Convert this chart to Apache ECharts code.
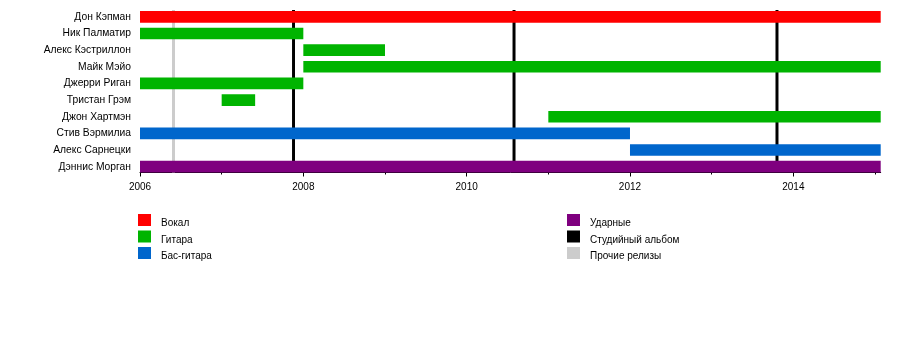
<!DOCTYPE html>
<html>
<head>
<meta charset="utf-8">
<script src="https://cdn.jsdelivr.net/npm/echarts@6/dist/echarts.min.js"></script>
<style>
html,body{margin:0;padding:0;background:#fff;}
#chart{width:900px;height:352px;}
</style>
</head>
<body>
<div id="chart"></div>
<script>
const members = ['Дон Кэпман','Ник Палматир','Алекс Кэстриллон','Майк Мэйо','Джерри Риган','Тристан Грэм','Джон Хартмэн','Стив Вэрмилиа','Алекс Сарнецки','Дэннис Морган'];
const memberStart = [2006, 2006, 2008, 2008, 2006, 2007, 2011, 2006, 2012, 2006];
const memberEnd = [2015.07, 2008, 2009, 2015.07, 2008, 2007.41, 2015.07, 2012, 2015.07, 2015.07];
const memberRole = [0, 1, 1, 1, 1, 1, 1, 2, 2, 3];
const roles = ['Вокал', 'Гитара', 'Бас-гитара', 'Ударные'];
const roleColors = ['#ff0000', '#00b400', '#0066cc', '#7f007f'];
const studioAlbums = [2007.88, 2010.58, 2013.80];
const otherReleases = [2006.41];
const releaseNames = ['Студийный альбом', 'Прочие релизы'];
const releaseColors = ['#000000', '#cccccc'];
const tickYears = [2006, 2008, 2010, 2012, 2014];
const minorTickYears = [2007, 2009, 2011, 2013, 2015];
const axisMin = 2006, axisMax = 2015.07;

const FONT = 'Liberation Sans, Arial, sans-serif';

function renderBar(params, api) {
  const y = api.value(0);
  const s = api.coord([api.value(1), y]);
  const e = api.coord([api.value(2), y]);
  const h = api.size([0, 1])[1] * 0.70;
  return {
    type: 'rect',
    shape: { x: s[0], y: s[1] - h / 2, width: e[0] - s[0], height: h },
    style: { fill: api.visual('color') }
  };
}
function renderLine(params, api) {
  const p = api.coord([api.value(0), 0]);
  const cs = params.coordSys;
  const top = cs.y + 1.5;
  const bottom = cs.y + cs.height - 2.5;
  return {
    type: 'rect',
    shape: { x: p[0] - 1.5, y: top, width: 3, height: bottom - top },
    style: { fill: api.visual('color') }
  };
}

const series = [];
[studioAlbums, otherReleases].forEach((arr, k) => {
  series.push({
    name: releaseNames[k], type: 'custom', z: 1,
    itemStyle: { color: releaseColors[k] },
    renderItem: renderLine,
    encode: { x: 0, y: 1 },
    data: arr.map(v => [v, 0]),
    silent: true
  });
});
roles.forEach((r, k) => {
  const data = [];
  members.forEach((m, i) => {
    if (memberRole[i] === k) data.push([i, memberStart[i], memberEnd[i]]);
  });
  series.push({
    name: r, type: 'custom', z: 2,
    itemStyle: { color: roleColors[k] },
    renderItem: renderBar,
    encode: { y: 0, x: [1, 2] },
    data: data,
    silent: true
  });
});

// square icon sitting in the top part of a taller legend cell
const legendIcon = 'path://M0,0h13v12h-13z M0,19h0.01v0.01h-0.01z';
const legendText = { fontSize: 10, color: '#000', fontFamily: FONT, padding: [0, 0, 0, 5] };

const chart = echarts.init(document.getElementById('chart'), null, { renderer: 'canvas' });
chart.setOption({
  backgroundColor: '#ffffff',
  animation: false,
  textStyle: { fontFamily: FONT },
  grid: { left: 140, right: 19.3, top: 8.5, bottom: 177 },
  xAxis: [{
    type: 'value', min: axisMin, max: axisMax, position: 'bottom', offset: -2.5,
    axisLine: { show: true, lineStyle: { color: '#000', width: 1 } },
    axisTick: { show: true, customValues: tickYears, length: 4, lineStyle: { color: '#000' } },
    axisLabel: { customValues: tickYears, fontSize: 10, color: '#000', margin: 10, fontFamily: FONT,
      formatter: v => String(v) },
    splitLine: { show: false }
  }, {
    type: 'value', min: axisMin, max: axisMax, position: 'bottom', offset: -2.5,
    axisLine: { show: false },
    axisTick: { show: true, customValues: minorTickYears, length: 2, lineStyle: { color: '#000' } },
    axisLabel: { show: false },
    splitLine: { show: false }
  }],
  yAxis: {
    type: 'category', data: members, inverse: true,
    axisLine: { show: false }, axisTick: { show: false },
    axisLabel: { fontSize: 10.3, color: '#000', margin: 9, fontFamily: FONT },
    splitLine: { show: false }
  },
  legend: [{
    orient: 'vertical', left: 138, top: 214, padding: 0,
    itemWidth: 13, itemHeight: 19, itemGap: -2.5,
    icon: legendIcon, data: roles.slice(0, 3),
    textStyle: legendText,
    selectedMode: false
  }, {
    orient: 'vertical', left: 567, top: 214, padding: 0,
    itemWidth: 13, itemHeight: 19, itemGap: -2.5,
    icon: legendIcon, data: [roles[3]].concat(releaseNames),
    textStyle: legendText,
    selectedMode: false
  }],
  series: series
});
</script>
</body>
</html>
